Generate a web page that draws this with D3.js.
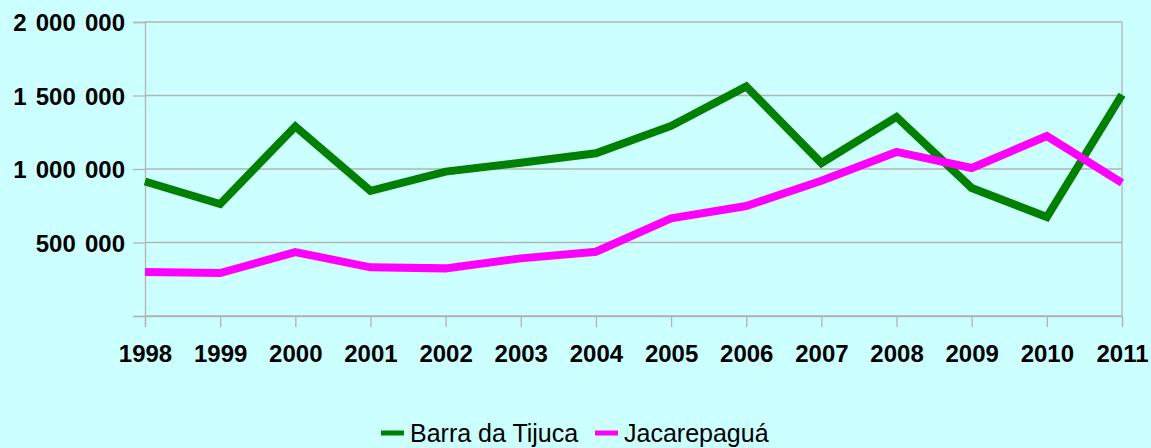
<!DOCTYPE html>
<head>
    <meta charset="utf-8">
    <title>Barra da Tijuca / Jacarepaguá</title>
    <style>
        body { margin: 0; background: #ccffff; }
        svg { display: block; font-family: "Liberation Sans", Arial, sans-serif; }
        .grid line { stroke: #b3b3b3; stroke-width: 1.3px; }
        .axis path, .axis line { stroke: #b3b3b3; stroke-width: 1.3px; }
        .axis text { font-size: 24px; font-weight: bold; fill: #000; }
        .yaxis text { word-spacing: 2.5px; }
        .line { fill: none; stroke-width: 8px; stroke-linejoin: miter; }
        .legend text { font-size: 25px; fill: #000; }
    </style>
</head>
<body>
<script src="https://d3js.org/d3.v7.min.js"></script>
<script>

var years = [1998, 1999, 2000, 2001, 2002, 2003, 2004, 2005, 2006, 2007, 2008, 2009, 2010, 2011];
var barra = [915000, 762000, 1290000, 852000, 982000, 1043000, 1107000, 1293000, 1562000, 1040000, 1354000, 871000, 673000, 1505000];
var jacare = [299000, 292000, 435000, 331000, 324000, 392000, 437000, 664000, 748000, 920000, 1116000, 1007000, 1224000, 905000];
var yTicks = [0, 500000, 1000000, 1500000, 2000000];
var seriesNames = ["Barra da Tijuca", "Jacarepaguá"];
var seriesColors = ["#008000", "#ff00ff"];

var width = 1151,
    height = 448,
    margin = {top: 22, right: 29, bottom: 132, left: 145};

var x = d3.scalePoint()
    .domain(years)
    .range([margin.left, width - margin.right]);

var y = d3.scaleLinear()
    .domain([0, 2000000])
    .range([height - margin.bottom, margin.top]);

var fmt = function(d) {
  return d === 0 ? "" : d3.format(",")(d).replace(/,/g, " ");
};

var svg = d3.select("body").append("svg")
    .attr("width", width)
    .attr("height", height);

svg.append("rect")
    .attr("width", width)
    .attr("height", height)
    .attr("fill", "#ccffff");

// horizontal gridlines
svg.append("g")
    .attr("class", "grid")
  .selectAll("line")
  .data(yTicks)
  .enter().append("line")
    .attr("x1", margin.left)
    .attr("x2", width - margin.right)
    .attr("y1", function(d) { return y(d); })
    .attr("y2", function(d) { return y(d); });

// right border of plot
svg.append("line")
    .attr("x1", width - margin.right).attr("x2", width - margin.right)
    .attr("y1", margin.top).attr("y2", y(0))
    .attr("stroke", "#b3b3b3").attr("stroke-width", 1.3);

var yAxis = svg.append("g")
    .attr("class", "axis yaxis")
    .attr("transform", "translate(" + margin.left + ",0)")
    .call(d3.axisLeft(y).tickValues(yTicks).tickFormat(fmt).tickSize(12).tickPadding(8));
yAxis.selectAll("text").attr("dy", "0.36em");

var xAxis = svg.append("g")
    .attr("class", "axis")
    .attr("transform", "translate(0," + y(0) + ")")
    .call(d3.axisBottom(x).tickSize(11).tickPadding(10).tickFormat(d3.format("d")));
xAxis.selectAll("text").attr("dy", "1.05em");

var line = d3.line()
    .x(function(d, i) { return x(years[i]); })
    .y(function(d) { return y(d); });

svg.selectAll(".line")
  .data([barra, jacare])
  .enter().append("path")
    .attr("class", "line")
    .attr("stroke", function(d, i) { return seriesColors[i]; })
    .attr("d", line);

// legend
var legendX = [381, 595];
var legend = svg.append("g")
    .attr("class", "legend")
  .selectAll("g")
  .data(seriesNames)
  .enter().append("g")
    .attr("transform", function(d, i) { return "translate(" + legendX[i] + ",433)"; });

legend.append("line")
    .attr("x1", 0).attr("x2", 23)
    .attr("stroke", function(d, i) { return seriesColors[i]; })
    .attr("stroke-width", 5);

legend.append("text")
    .attr("x", 29)
    .attr("y", 9)
    .text(function(d) { return d; });

</script>
</body>
